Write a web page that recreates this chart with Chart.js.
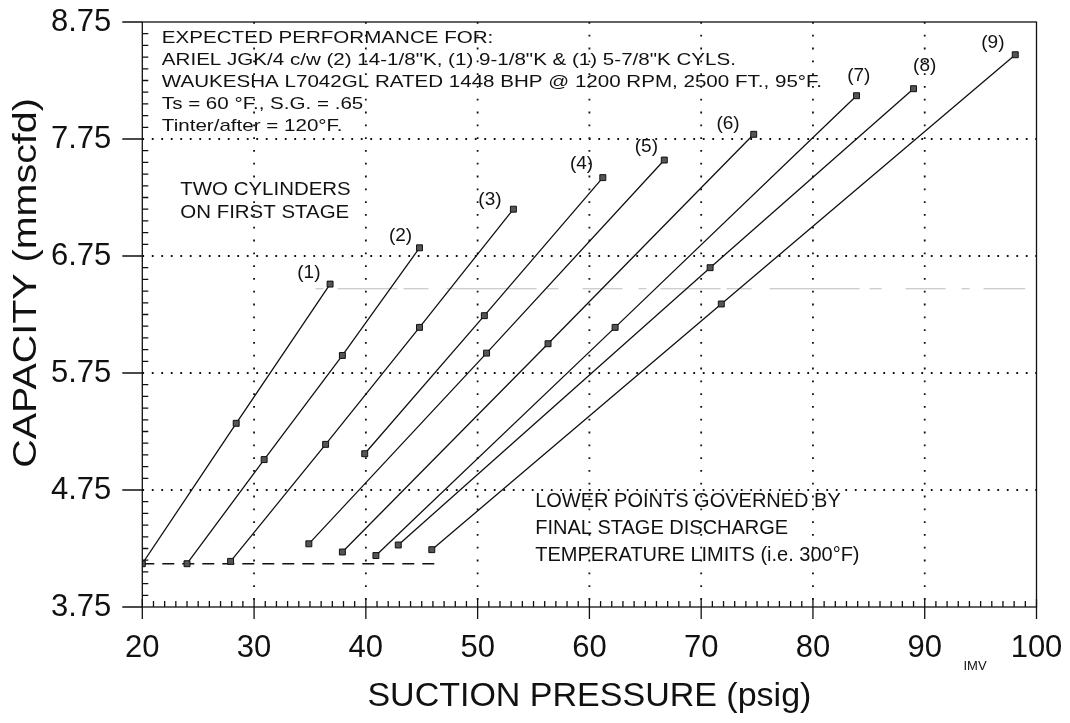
<!DOCTYPE html>
<html lang="en">
<head>
<meta charset="UTF-8">
<title>Capacity vs Suction Pressure</title>
<style>
  *{margin:0;padding:0}
  body{background:#fff;width:1070px;height:723px;overflow:hidden}
  canvas{display:block}
</style>
</head>
<body>
<canvas id="chart" width="1070" height="723"></canvas>
<script src="https://cdn.jsdelivr.net/npm/chart.js"></script>
<script>
// ---- data ----
const xTicks = [20, 30, 40, 50, 60, 70, 80, 90, 100];
const yTicks = [3.75, 4.75, 5.75, 6.75, 7.75, 8.75];

const curveNames = ['(1)', '(2)', '(3)', '(4)', '(5)', '(6)', '(7)', '(8)', '(9)'];
const curveX = [
  [20.0, 28.4, 36.8],
  [24.0, 30.9, 37.9, 44.8],
  [27.9, 36.4, 44.8, 53.2],
  [39.9, 50.6, 61.2],
  [34.9, 50.8, 66.7],
  [37.9, 56.3, 74.7],
  [40.9, 62.3, 83.9],
  [42.9, 70.8, 89.0],
  [45.9, 71.8, 98.1]
];
const curveY = [
  [4.12, 5.32, 6.51],
  [4.12, 5.01, 5.90, 6.82],
  [4.14, 5.14, 6.14, 7.15],
  [5.06, 6.24, 7.42],
  [4.29, 5.92, 7.57],
  [4.22, 6.00, 7.79],
  [4.19, 6.14, 8.12],
  [4.28, 6.65, 8.18],
  [4.24, 6.34, 8.47]
];
// where the curve numbers sit (data units)
const labelX = [34.9, 43.1, 51.1, 59.3, 65.1, 72.4, 84.1, 90.0, 96.1];
const labelY = [6.61, 6.92, 7.23, 7.54, 7.68, 7.88, 8.29, 8.38, 8.57];

// dashed line: discharge temperature limit
const limitX = [20, 46.5];
const limitY = [4.12, 4.12];

// faint grey stroke left by the scan
const scanX = [35.5, 99.0];
const scanY = [6.47, 6.47];

const noteBlock = [
  'EXPECTED PERFORMANCE FOR:',
  'ARIEL JGK/4 c/w (2) 14-1/8"K, (1) 9-1/8"K & (1) 5-7/8"K CYLS.',
  'WAUKESHA L7042GL RATED 1448 BHP @ 1200 RPM, 2500 FT., 95°F.',
  'Ts = 60 °F., S.G. = .65',
  'Tinter/after = 120°F.'
];
const noteStage = ['TWO CYLINDERS', 'ON FIRST STAGE'];
const noteLower = ['LOWER POINTS GOVERNED BY', 'FINAL STAGE DISCHARGE', 'TEMPERATURE LIMITS (i.e. 300°F)'];

const FONT = '"Liberation Sans", Arial, Helvetica, sans-serif';
const INK = '#111';

const pts = (xs, ys) => xs.map((x, i) => ({x, y: ys[i]}));

const datasets = curveX.map((xs, k) => ({
  label: curveNames[k],
  data: pts(xs, curveY[k]),
  showLine: true,
  borderColor: INK,
  borderWidth: 1.3,
  pointStyle: 'rect',
  pointRadius: 4.2,
  pointBackgroundColor: '#555',
  pointBorderColor: INK,
  pointBorderWidth: 1
}));
datasets.push({
  label: 'limit',
  data: pts(limitX, limitY),
  showLine: true,
  borderColor: INK,
  borderWidth: 1.5,
  borderDash: [12, 8],
  pointRadius: 0
});
datasets.push({
  label: 'scan',
  data: pts(scanX, scanY),
  showLine: true,
  borderColor: '#bdbdbd',
  borderWidth: 1,
  borderDash: [8, 14, 60, 6, 25, 18, 90, 10, 12, 24, 40, 16],
  pointRadius: 0
});

function txt(ctx, s, x, y, size, sx, align) {
  ctx.save();
  ctx.font = size + 'px ' + FONT;
  ctx.fillStyle = INK;
  ctx.textBaseline = 'middle';
  ctx.textAlign = align || 'left';
  ctx.translate(x, y);
  ctx.scale(sx, 1);
  ctx.fillText(s, 0, 0);
  ctx.restore();
}

// keep the plot box exactly where layout.padding puts it
function noEdgePadding(s) {
  s.paddingTop = s.paddingBottom = s.paddingLeft = s.paddingRight = 0;
}

const paper = {
  id: 'paper',
  beforeDatasetsDraw(chart) {
    const {ctx, chartArea: a, scales: {x, y}} = chart;
    ctx.save();
    ctx.strokeStyle = INK;
    ctx.lineWidth = 1.8;
    ctx.setLineDash([1.8, 11]);
    xTicks.slice(1, -1).forEach(v => {
      const px = x.getPixelForValue(v);
      ctx.beginPath(); ctx.moveTo(px, a.top); ctx.lineTo(px, a.bottom); ctx.stroke();
    });
    ctx.setLineDash([1.8, 7.7]);
    yTicks.slice(1, -1).forEach(v => {
      const py = y.getPixelForValue(v);
      ctx.beginPath(); ctx.moveTo(a.left, py); ctx.lineTo(a.right, py); ctx.stroke();
    });
    ctx.restore();
  },
  afterDatasetsDraw(chart) {
    const {ctx, chartArea: a, scales: {x, y}} = chart;
    ctx.save();
    ctx.strokeStyle = INK;
    ctx.lineWidth = 1.3;
    ctx.strokeRect(a.left, a.top, a.right - a.left, a.bottom - a.top);
    ctx.beginPath();
    // y: minor every 0.1 inside, major outside
    for (let i = 1; i < 50; i++) {
      if (i % 10 === 0) continue;
      const py = y.getPixelForValue(yTicks[0] + i * 0.1);
      ctx.moveTo(a.left, py); ctx.lineTo(a.left + 6, py);
    }
    yTicks.forEach(v => {
      const py = y.getPixelForValue(v);
      ctx.moveTo(a.left - 20, py); ctx.lineTo(a.left, py);
    });
    // x: minor every 1 inside, major below and a little above
    for (let v = xTicks[0] + 1; v < xTicks[xTicks.length - 1]; v++) {
      if (v % 10 === 0) continue;
      const px = x.getPixelForValue(v);
      ctx.moveTo(px, a.bottom); ctx.lineTo(px, a.bottom - 6);
    }
    xTicks.forEach(v => {
      const px = x.getPixelForValue(v);
      ctx.moveTo(px, a.bottom + 12); ctx.lineTo(px, a.bottom - 8);
    });
    ctx.stroke();
    ctx.restore();

    // curve numbers
    curveNames.forEach((n, k) => txt(ctx, n, x.getPixelForValue(labelX[k]), y.getPixelForValue(labelY[k]), 19, 1, 'center'));

    // notes
    const bx = x.getPixelForValue(21.75);
    noteBlock.forEach((s, i) => txt(ctx, s, bx, y.getPixelForValue(8.607) + i * 22, 17, 1.21));
    const sx0 = x.getPixelForValue(23.4);
    noteStage.forEach((s, i) => txt(ctx, s, sx0, y.getPixelForValue(7.314) + i * 23.3, 18.6, 1.1));
    const lx = x.getPixelForValue(55.15);
    noteLower.forEach((s, i) => txt(ctx, s, lx, y.getPixelForValue(4.65) + i * 26.7, 20, 1));

    // rotated y title
    ctx.save();
    ctx.font = '34px ' + FONT;
    ctx.fillStyle = INK;
    ctx.textAlign = 'center';
    ctx.textBaseline = 'middle';
    ctx.translate(27, y.getPixelForValue(6.52));
    ctx.rotate(-Math.PI / 2);
    ctx.scale(1.16, 1);
    ctx.fillText('CAPACITY (mmscfd)', 0, 0);
    ctx.restore();

    txt(ctx, 'IMV', x.getPixelForValue(94.5), y.getPixelForValue(3.24), 13, 1, 'center');
  }
};

new Chart(document.getElementById('chart'), {
  type: 'scatter',
  data: {datasets},
  options: {
    responsive: false,
    animation: false,
    layout: {padding: {left: 0, right: 33.5, top: 22, bottom: 0}},
    plugins: {legend: {display: false}, tooltip: {enabled: false}},
    scales: {
      x: {
        type: 'linear', min: 20, max: 100,
        afterBuildTicks: s => { s.ticks = xTicks.map(v => ({value: v})); },
        afterFit: s => { s.height = 116; noEdgePadding(s); },
        grid: {display: false, drawTicks: false},
        border: {display: false},
        ticks: {color: INK, font: {family: FONT, size: 31}, padding: 23, maxRotation: 0, autoSkip: false},
        title: {display: true, text: 'SUCTION PRESSURE (psig)', color: INK, font: {family: FONT, size: 34}, padding: {top: 0, bottom: 6}}
      },
      y: {
        type: 'linear', min: 3.75, max: 8.75,
        afterBuildTicks: s => { s.ticks = yTicks.map(v => ({value: v})); },
        afterFit: s => { s.width = 142.3; noEdgePadding(s); },
        grid: {display: false, drawTicks: false},
        border: {display: false},
        ticks: {color: INK, font: {family: FONT, size: 31}, padding: 31, autoSkip: false, callback: v => Number(v).toFixed(2)}
      }
    }
  },
  plugins: [paper]
});
</script>
</body>
</html>
